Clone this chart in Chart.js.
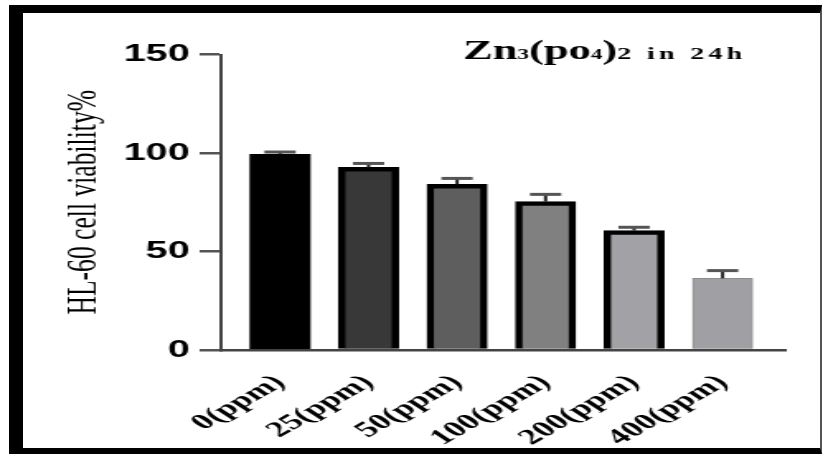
<!DOCTYPE html>
<html>
<head>
<meta charset="utf-8">
<script src="https://cdn.jsdelivr.net/npm/chart.js@4/dist/chart.umd.min.js"></script>
<style>
html,body{margin:0;padding:0;background:#fff;overflow:hidden}
#page{position:relative;width:823px;height:454px;background:#fff;overflow:hidden}
#stretch{position:absolute;left:0;top:0;width:499px;height:454px;transform:scaleX(1.6493);transform-origin:0 0}
#frame{position:absolute;left:9px;top:5px;width:797px;height:435px;border-left:14px solid #000;border-top:8px solid #000;border-right:2px solid #555;border-bottom:6px solid #000;pointer-events:none}
</style>
</head>
<body>
<div id="page">
  <div id="stretch"><canvas id="c" width="499" height="454"></canvas></div>
  <div id="frame"></div>
</div>
<script>
const categories = ['0(ppm)', '25(ppm)', '50(ppm)', '100(ppm)', '200(ppm)', '400(ppm)'];
const viability = [99.3, 92.7, 84.1, 75.3, 60.6, 36.4];
const errorSEM = [1.2, 2.0, 3.0, 3.7, 1.7, 3.9];
const yTicks = [0, 50, 100, 150];
const titleParts = [['Zn', 'big'], ['3', 'small'], ['(po', 'big'], ['4', 'small'], [')', 'big'], ['2 in 24h', 'tail']];
const yTitle = 'HL-60 cell viability%';

const fills = ['#000000', '#383838', '#5e5e5e', '#808080', '#a2a2a6', '#a0a0a4'];
const borders = ['#000000', '#000000', '#000000', '#000000', '#000000', '#8c8c8c'];
const borderWidths = [0, 4.5, 4.5, 4.5, 4.5, 1];

const errorBars = {
  id: 'errorBars',
  afterDatasetsDraw(chart) {
    const ctx = chart.ctx;
    const meta = chart.getDatasetMeta(0);
    const ys = chart.scales.y;
    ctx.save();
    meta.data.forEach((el, i) => {
      const yTop = ys.getPixelForValue(viability[i] + errorSEM[i]);
      ctx.strokeStyle = '#222';
      ctx.lineWidth = 2;
      ctx.beginPath();
      ctx.moveTo(el.x, el.y);
      ctx.lineTo(el.x, yTop);
      ctx.stroke();
      ctx.strokeStyle = '#555';
      ctx.lineWidth = 3;
      ctx.beginPath();
      ctx.moveTo(el.x - 9.5, yTop);
      ctx.lineTo(el.x + 9.5, yTop);
      ctx.stroke();
    });
    ctx.restore();
  }
};

const chartTitle = {
  id: 'chartTitle',
  afterDraw(chart) {
    const ctx = chart.ctx;
    const fonts = {
      big: 'bold 27px "Liberation Serif"',
      small: 'bold 14px "Liberation Serif"',
      tail: 'bold 17px "Liberation Serif"'
    };
    ctx.save();
    ctx.fillStyle = '#000';
    ctx.textBaseline = 'alphabetic';
    ctx.textAlign = 'left';
    let x = 280.7;
    const y = 59;
    titleParts.forEach(([t, k]) => {
      ctx.font = fonts[k];
      if ('letterSpacing' in ctx) ctx.letterSpacing = (k === 'tail') ? '2.6px' : '0px';
      ctx.fillText(t, x, y);
      x += ctx.measureText(t).width;
    });
    ctx.restore();
  }
};

new Chart(document.getElementById('c'), {
  type: 'bar',
  data: {
    datasets: [{
      data: categories.map((c, i) => ({ x: i, y: viability[i] })),
      backgroundColor: fills,
      borderColor: borders,
      borderWidth: borderWidths,
      borderSkipped: 'start',
      barThickness: 36.4
    }]
  },
  options: {
    responsive: false,
    animation: false,
    devicePixelRatio: 1,
    layout: { padding: { left: 0, right: 23, top: 54.5, bottom: 0 } },
    plugins: { legend: { display: false }, tooltip: { enabled: false }, title: { display: false } },
    scales: {
      x: {
        type: 'linear',
        min: -0.667,
        max: 5.706,
        offset: false,
        grid: { display: false, drawTicks: false },
        border: { display: true, color: '#444', width: 2.5, z: 1 },
        ticks: {
          stepSize: 1,
          includeBounds: false,
          autoSkip: false,
          minRotation: 43,
          maxRotation: 43,
          padding: 20,
          color: '#000',
          font: { family: 'Liberation Serif', weight: 'bold', size: 22 },
          callback: (v) => {
            const r = Math.round(v);
            return Math.abs(v - r) < 1e-6 && categories[r] !== undefined ? categories[r] : null;
          }
        },
        afterFit: (s) => { s.height = 104; }
      },
      y: {
        min: 0,
        max: 150,
        afterBuildTicks: (s) => { s.ticks = yTicks.map(v => ({ value: v })); },
        ticks: {
          padding: 6,
          color: '#000',
          font: { family: 'Liberation Sans', weight: 'bold', size: 24 }
        },
        grid: { drawOnChartArea: false, drawTicks: true, tickLength: 13, color: '#555', lineWidth: 2.5 },
        border: { display: true, color: '#444', width: 2, z: 1 },
        title: {
          display: true,
          text: yTitle,
          color: '#000',
          font: { family: 'Liberation Serif', size: 25.6, weight: 'normal' },
          padding: { top: 36, bottom: 0 }
        },
        afterFit: (s) => { s.width = 134; }
      }
    }
  },
  plugins: [errorBars, chartTitle]
});
</script>
</body>
</html>
